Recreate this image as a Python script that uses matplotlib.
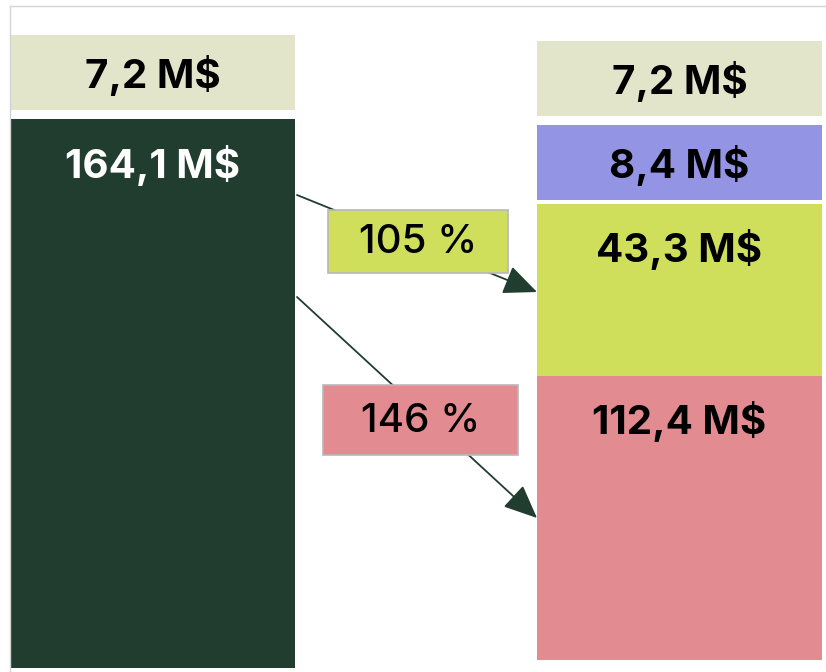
import matplotlib.pyplot as plt
from matplotlib.patches import Rectangle

# values (M$) and labels
left_values = [164.1, 7.2]
left_colors = ["#213d30", "#e3e5cb"]
right_values = [112.4, 43.3, 8.4, 7.2]
right_colors = ["#e28b90", "#cfdf5b", "#9494e4", "#e3e5cb"]
pct_labels = ["105 %", "146 %"]
pct_colors = ["#cfdf5b", "#e28b90"]

# layout: drawn segment heights (chart is not to scale) and gaps
left_heights = [549, 75]
left_gaps = [0, 9]
right_heights = [284, 172, 75, 75]
right_gaps = [0, 0, 4, 9]


def fmt(v):
    return f"{v:.1f}".replace(".", ",") + " M$"


plt.rcParams["font.family"] = ["Inter", "DejaVu Sans"]
fig = plt.figure(figsize=(8.26, 6.72), dpi=100)
ax = fig.add_axes([0, 0, 1, 1])
ax.set_xlim(0, 826)
ax.set_ylim(0, 672)
ax.axis("off")

# thin frame at top and left
ax.axhline(666, xmin=10 / 826, xmax=1, color="#d4d4d4", lw=1)
ax.axvline(10, ymin=0, ymax=666 / 672, color="#d4d4d4", lw=1)


def stack(xc, base, heights, gaps, values, colors, label_pos):
    bottom = base
    for h, g, v, c, lp in zip(heights, gaps, values, colors, label_pos):
        bottom += g
        ax.bar(xc, h, bottom=bottom, width=285, color=c, edgecolor="none")
        txt_col = "white" if c == "#213d30" else "black"
        y = bottom + h - 46 if lp == "top" else bottom + h / 2 - 3
        ax.text(xc, y, fmt(v), ha="center", va="center", fontsize=29,
                fontweight="bold", color=txt_col)
        bottom += h


stack(152.5, 4, left_heights, left_gaps, left_values, left_colors,
      ["top", "center"])
stack(679.5, 12, right_heights, right_gaps, right_values, right_colors,
      ["top", "top", "center", "center"])

# arrows and percentage boxes
arrows = [((297, 477), (537, 380)), ((297, 375), (537, 154))]
boxes = [(328, 399, 180, 63), (323, 217, 195, 70)]
for (start, end), (bx, by, bw, bh), lab, col in zip(arrows, boxes, pct_labels, pct_colors):
    ax.annotate("", xy=end, xytext=start,
                arrowprops=dict(arrowstyle="-|>,head_length=0.8,head_width=0.35",
                                color="#213d30", lw=1.3,
                                mutation_scale=26, shrinkA=0, shrinkB=0))
    ax.add_patch(Rectangle((bx, by), bw, bh, facecolor=col,
                           edgecolor="#b8b8b8", lw=1.2, zorder=3))
    ax.text(bx + bw / 2, by + bh / 2 - 1, lab, ha="center", va="center",
            fontsize=29, fontweight="medium", color="black", zorder=4)

fig.savefig("out.png", dpi=100)
